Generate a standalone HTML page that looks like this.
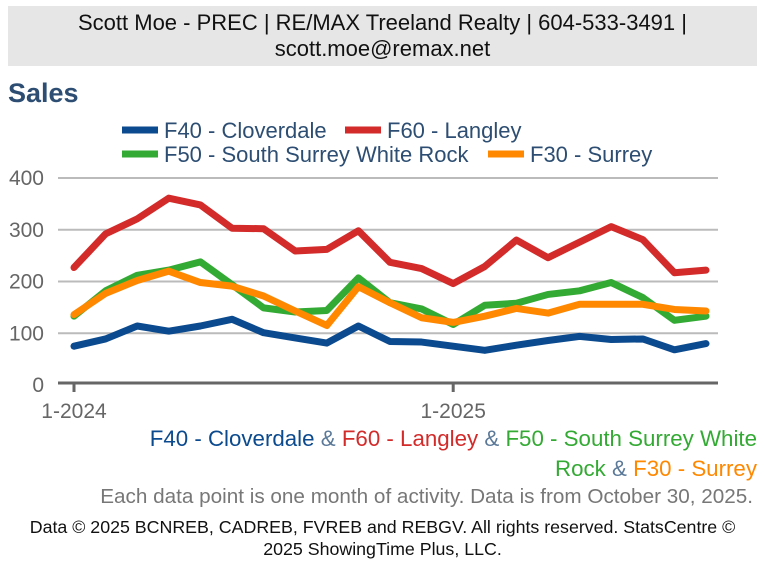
<!DOCTYPE html>
<html><head><meta charset="utf-8"><style>
body{margin:0;width:765px;height:572px;background:#fff;font-family:"Liberation Sans",Arial,sans-serif;overflow:hidden;position:relative}
.hdr{position:absolute;left:8px;top:6px;width:749px;height:60px;background:#e6e6e6;text-align:center;font-size:22px;line-height:26px;color:#111;padding-top:4px;box-sizing:border-box;white-space:nowrap}
.title{position:absolute;left:8px;top:78px;font-size:27px;font-weight:bold;color:#2d4e72}
.foot{position:absolute;text-align:right;right:8px}
</style></head><body>
<div class="hdr">Scott Moe - PREC | RE/MAX Treeland Realty | 604-533-3491 |<br>scott.moe@remax.net</div>
<div class="title">Sales</div>
<svg width="765" height="572" style="position:absolute;left:0;top:0" id="chart"></svg>
<div class="foot" style="top:424px;line-height:30px;width:640px;font-size:22.3px"><span style="color:#0b4a8e">F40 - Cloverdale</span> <span style="color:#5a7898">&amp;</span> <span style="color:#d32a2a">F60 - Langley</span> <span style="color:#5a7898">&amp;</span> <span style="color:#33aa33">F50 - South Surrey White Rock</span> <span style="color:#5a7898">&amp;</span> <span style="color:#ff8800">F30 - Surrey</span></div>
<div class="foot" style="top:485px;right:12px;font-size:20.7px;color:#777;white-space:nowrap">Each data point is one month of activity. Data is from October 30, 2025.</div>
<div style="position:absolute;left:0;top:516px;width:765px;text-align:center;font-size:17.8px;line-height:22px;color:#111">Data © 2025 BCNREB, CADREB, FVREB and REBGV. All rights reserved. StatsCentre ©<br>2025 ShowingTime Plus, LLC.</div>
<script>
const months=["1-2024","2-2024","3-2024","4-2024","5-2024","6-2024","7-2024","8-2024","9-2024","10-2024","11-2024","12-2024","1-2025","2-2025","3-2025","4-2025","5-2025","6-2025","7-2025","8-2025","9-2025"];
const xTickLabels=["1-2024","1-2025"];
const yTicks=[0,100,200,300,400];
const seriesNames=["F40 - Cloverdale","F60 - Langley","F50 - South Surrey White Rock","F30 - Surrey"];
const cloverdale=[75,89,114,104,114,127,101,91,81,114,84,83,75,67,77,86,94,88,89,68,80];
const langley=[227,292,321,361,348,303,302,259,262,298,237,225,196,229,280,246,276,306,281,217,222];
const southSurrey=[133,182,212,222,238,194,149,141,144,207,159,147,117,154,158,175,182,198,169,125,133];
const surrey=[136,177,202,220,198,191,172,143,115,190,159,130,121,133,148,139,156,156,156,146,143];
const svg=document.getElementById('chart');const NS="http://www.w3.org/2000/svg";
function x(i){return 74+i*31.6;}
function y(v){return 385-v*0.5175;}
function mk(t,a,p){const e=document.createElementNS(NS,t);for(const k in a)e.setAttribute(k,a[k]);(p||svg).appendChild(e);return e;}
yTicks.forEach(v=>{
 if(v>0){const g=mk('line',{x1:58,x2:718,y1:y(v),y2:y(v),stroke:'#bbb','stroke-width':2});
 
 }
 const t=mk('text',{x:44,y:y(v)+7,'text-anchor':'end','font-size':21,fill:'#666'});t.textContent=v;
 
 
});
const ax=mk('line',{x1:58,x2:718,y1:383,y2:383,stroke:'#666','stroke-width':3});


xTickLabels.forEach(l=>{const i=months.indexOf(l);
 const tk=mk('line',{x1:x(i),x2:x(i),y1:383,y2:392,stroke:'#666','stroke-width':3});
 
 
 const t=mk('text',{x:x(i),y:418,'text-anchor':'middle','font-size':21,fill:'#666'});t.textContent=l;
 
 });
const series=[[langley,'#d32a2a'],[southSurrey,'#33aa33'],[surrey,'#ff8800'],[cloverdale,'#0b4a8e']];
const sn=['langley','south-surrey','surrey','cloverdale'];
series.forEach((s,k)=>{const p=mk('polyline',{points:s[0].map((v,i)=>x(i)+','+y(v)).join(' '),fill:'none',stroke:s[1],'stroke-width':7,'stroke-linejoin':'round','stroke-linecap':'round'});
 
 });
const leg=[[0,'#0b4a8e',122,130],[1,'#d32a2a',345,130],[2,'#33aa33',122,154],[3,'#ff8800',488,154]];
leg.forEach(l=>{const g=mk('g',{});
 
 
 mk('line',{x1:l[2],x2:l[2]+36,y1:l[3],y2:l[3],stroke:l[1],'stroke-width':7},g);
 const t=mk('text',{x:l[2]+42,y:l[3]+8,'font-size':22,fill:'#2d4e72'},g);t.textContent=seriesNames[l[0]];});
</script>
</body></html>
